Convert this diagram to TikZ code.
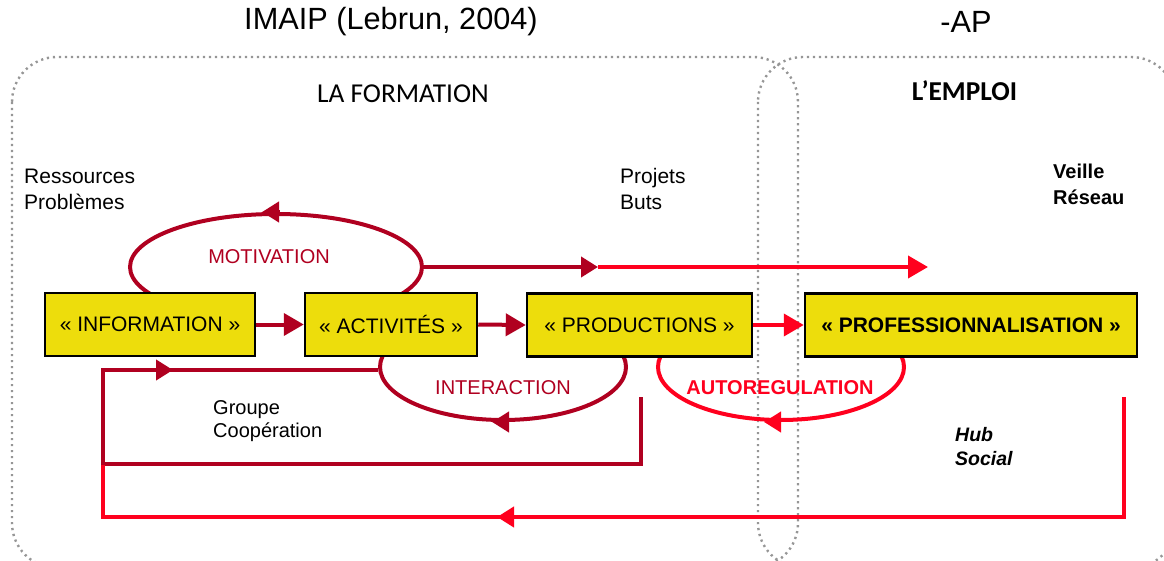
\documentclass[tikz,border=0pt]{standalone}
\usepackage{fontspec}
\setmainfont{Liberation Sans}
\newfontfamily\calib{Carlito}
\usetikzlibrary{arrows.meta,shapes.geometric}
\definecolor{dred}{RGB}{176,0,32}
\definecolor{bred}{RGB}{255,0,30}
\definecolor{boxyellow}{RGB}{237,221,12}
\definecolor{framegray}{RGB}{150,150,150}
\begin{document}
\begin{tikzpicture}[x=1pt,y=-1pt,
  stage/.style={draw=black, fill=boxyellow, line width=2.5pt, minimum height=63pt, inner sep=0pt, font=\fontsize{21}{25}\selectfont},
  frame/.style={draw=framegray, line width=2.4pt, dash pattern=on 2.2pt off 3.8pt, rounded corners=45pt},
  link/.style={line width=4pt},
  loopshape/.style={ellipse, draw, line width=4pt, inner sep=0pt, minimum width=246pt, minimum height=106pt},
  bigtip/.style={-{Triangle[length=20pt,width=22pt]}},
  midtip/.style={-{Triangle[length=17pt,width=20pt]}},
  lbl/.style={font=\fontsize{21}{26}\selectfont, align=left, anchor=west, inner sep=0pt},
  looplbl/.style={font=\fontsize{20}{24}\selectfont, inner sep=0pt}
]
\useasboundingbox (0,0) rectangle (1164,561);

% frames
\draw[frame] (12,57) rectangle (798,568);
\draw[frame] (758,57) rectangle (1176,568);

% titles
\node[font=\fontsize{30.7}{36}\selectfont] (title) at (391,22) {IMAIP (Lebrun, 2004)};
\node[font=\fontsize{30.7}{36}\selectfont] (ap) at (966,22) {-AP};
\node[font=\calib\fontsize{27.3}{31}\selectfont] (formation) at (403,93.5) {LA FORMATION};
\node[font=\calib\bfseries\fontsize{27.3}{31}\selectfont] (emploi) at (964.5,91) {L’EMPLOI};

% loops
\begin{scope}
  \clip (0,0) rectangle (1164,293);
  \node[loopshape, draw=dred, minimum width=292pt] (motiv) at (276,267) {};
\end{scope}
\begin{scope}
  \clip (0,357) rectangle (1164,561);
  \node[loopshape, draw=dred] (inter) at (503,367) {};
  \node[loopshape, draw=bred] (autoreg) at (781,367) {};
\end{scope}

% stages
\node[stage, minimum width=210pt] (info) at (150,324.5) {«~INFORMATION~»};
\node[stage, minimum width=172pt] (act) at (391,324.5) {«~ACTIVITÉS~»};
\node[stage, minimum width=225pt] (prod) at (639.5,325) {«~PRODUCTIONS~»};
\node[stage, minimum width=332pt, font=\bfseries\fontsize{21}{25}\selectfont] (prof) at (971,325) {«~PROFESSIONNALISATION~»};

% main arrows
\draw[dred, link, bigtip] (info.east) -- (act.west);
\draw[dred, link, bigtip] (act.east) -- (prod.west);
\draw[bred, link, bigtip] (prod.east) -- (prof.west);

% motivation line
\coordinate (mvmid) at (598,267);
\coordinate (mvend) at (928,267);
\draw[dred, link, midtip] (motiv.east) -- (mvmid);
\draw[bred, link, bigtip] (mvmid) -- (mvend);

% arrowheads on loops
\draw[dred, link, midtip] ([xshift=4pt]motiv.north) -- ([xshift=-14pt]motiv.north);
\draw[dred, link, midtip] ([xshift=6pt]inter.south) -- ([xshift=-11pt]inter.south);
\draw[bred, link, midtip] ([xshift=0pt]autoreg.south) -- ([xshift=-17pt]autoreg.south);

% feedback loops
\coordinate (pdown) at (641,397);
\coordinate (pcorner) at (641,464);
\coordinate (lcorner) at (103,464);
\coordinate (ls) at (103,370);
\coordinate (lsarrow) at (173,370);
\draw[dred, link] (pdown) -- (pcorner) -- (lcorner) -- (ls) -- (inter.west |- ls);
\draw[dred, link, midtip] (ls) -- (lsarrow);

\coordinate (rdown) at (1124,397);
\coordinate (rcorner) at (1124,517);
\coordinate (bcorner) at (103,517);
\coordinate (bend) at (103,465);
\coordinate (barrow) at (497,517);
\draw[bred, link] (rdown) -- (rcorner) -- (bcorner) -- (bend);
\draw[bred, link, midtip] ([xshift=30pt]barrow) -- (barrow);

% loop labels
\node[looplbl, text=dred] (motlbl) at (269,257) {MOTIVATION};
\node[looplbl, text=dred] (intlbl) at (503,388) {INTERACTION};
\node[looplbl, text=bred, font=\bfseries\fontsize{20}{24}\selectfont] (autolbl) at (780,388) {AUTOREGULATION};

% side labels
\node[lbl] (res) at (24,189) {Ressources\\Problèmes};
\node[lbl, font=\fontsize{20}{23}\selectfont] (grp) at (213,421.5) {Groupe\\Coopération};
\node[lbl] (proj) at (620,189) {Projets\\Buts};
\node[lbl, font=\bfseries\fontsize{20}{26}\selectfont] (veille) at (1053,184) {Veille\\Réseau};
\node[lbl, font=\bfseries\itshape\fontsize{19.5}{24}\selectfont] (hub) at (955,447) {Hub\\Social};
\end{tikzpicture}
\end{document}
